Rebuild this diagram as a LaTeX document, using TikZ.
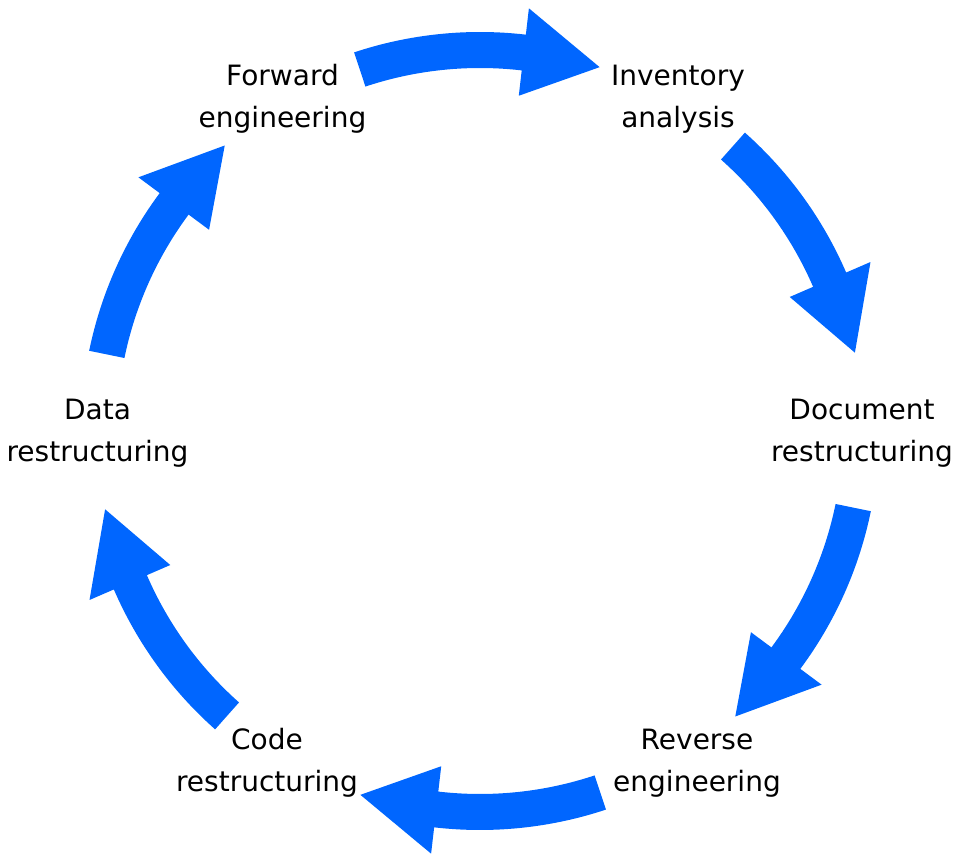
\documentclass[tikz,border=0pt]{standalone}
\usepackage{fontspec}
\setmainfont{DejaVu Sans}
\definecolor{arrowblue}{RGB}{0,102,255}
\begin{document}
\begin{tikzpicture}[x=1pt,y=1pt,
  lbl/.style={align=center, font=\fontsize{28}{42}\selectfont, inner sep=0pt, text=black},
  cyclearrow/.pic={
    \fill[arrowblue] (#1+18.4:399pt) arc[start angle=#1+18.4, end angle=#1-6.6, radius=399pt]
      -- (#1-6.6:425.5pt) -- (#1-18.2:383pt) -- (#1-6.6:337.5pt) -- (#1-6.6:363pt)
      arc[start angle=#1-6.6, end angle=#1+18.4, radius=363pt] -- cycle;
  }]
\useasboundingbox (0,0) rectangle (960,864);
\coordinate (C) at (480,433);
\node[lbl] (fwd) at (282.5,766) {\strut Forward\\\strut engineering};
\node[lbl] (inv) at (678,766) {\strut Inventory\\\strut analysis};
\node[lbl] (doc) at (862,432) {\strut Document\\\strut restructuring};
\node[lbl] (rev) at (697,102) {\strut Reverse\\\strut engineering};
\node[lbl] (code) at (267,102) {\strut Code\\\strut restructuring};
\node[lbl] (data) at (97.5,432) {\strut Data\\\strut restructuring};
\pic at (C) {cyclearrow=90};
\pic at (C) {cyclearrow=30};
\pic at (C) {cyclearrow=-30};
\pic at (C) {cyclearrow=-90};
\pic at (C) {cyclearrow=-150};
\pic at (C) {cyclearrow=150};
\end{tikzpicture}
\end{document}
